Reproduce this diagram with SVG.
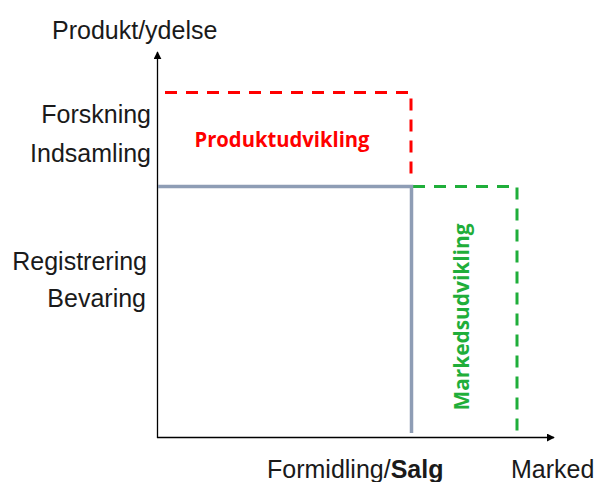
<svg xmlns="http://www.w3.org/2000/svg" width="594" height="482" viewBox="0 0 594 482">
<style>
.lbl{font-family:"Liberation Sans",Arial,sans-serif;font-size:25px;fill:#1a1a1a}
.r{text-anchor:end}
.red{stroke:#ff0000;stroke-width:3;fill:none;stroke-dasharray:12,9}
.grn{stroke:#1fae3a;stroke-width:3;fill:none;stroke-dasharray:12,9}
.gray{stroke:#8e9db5;stroke-width:3.5;fill:none}
.axis{stroke:#000;stroke-width:1.3;fill:none}
</style>
<defs>
<marker id="ah" viewBox="0 0 10 10" refX="9" refY="5" markerWidth="8" markerHeight="8" markerUnits="userSpaceOnUse" orient="auto">
<path d="M0,0 L10,5 L0,10 z" fill="#000"/>
</marker>
</defs>
<rect width="594" height="482" fill="#fff"/>
<g id="connectors">
<line class="axis" x1="157.5" y1="438" x2="157.5" y2="52" marker-end="url(#ah)"/>
<line class="axis" x1="157" y1="437.5" x2="554" y2="437.5" marker-end="url(#ah)"/>
</g>
<g id="produktudvikling-area">
<path class="red" d="M165,92.5 H411 V180"/>
<text x="282" y="147" text-anchor="middle" font-family="'Open Sans','Liberation Sans',sans-serif" font-weight="bold" font-size="22" fill="#ff0000" textLength="175" lengthAdjust="spacingAndGlyphs">Produktudvikling</text>
</g>
<g id="markedsudvikling-area">
<path class="grn" d="M413,186.5 H517 V433"/>
<text transform="translate(469,317) rotate(-90)" text-anchor="middle" font-family="'Open Sans','Liberation Sans',sans-serif" font-weight="bold" font-size="21" fill="#1fae3a" textLength="187" lengthAdjust="spacingAndGlyphs">Markedsudvikling</text>
</g>
<g id="core-area">
<path class="gray" d="M158,186.5 H411.5 V433"/>
</g>
<g id="y-labels">
<text class="lbl" x="52" y="39">Produkt/ydelse</text>
<text class="lbl r" x="151" y="123">Forskning</text>
<text class="lbl r" x="151" y="162">Indsamling</text>
<text class="lbl r" x="147" y="270">Registrering</text>
<text class="lbl r" x="146" y="307">Bevaring</text>
</g>
<g id="x-labels">
<text class="lbl" x="267" y="478">Formidling/<tspan font-weight="bold">Salg</tspan></text>
<text class="lbl" x="511" y="478">Marked</text>
</g>
</svg>
